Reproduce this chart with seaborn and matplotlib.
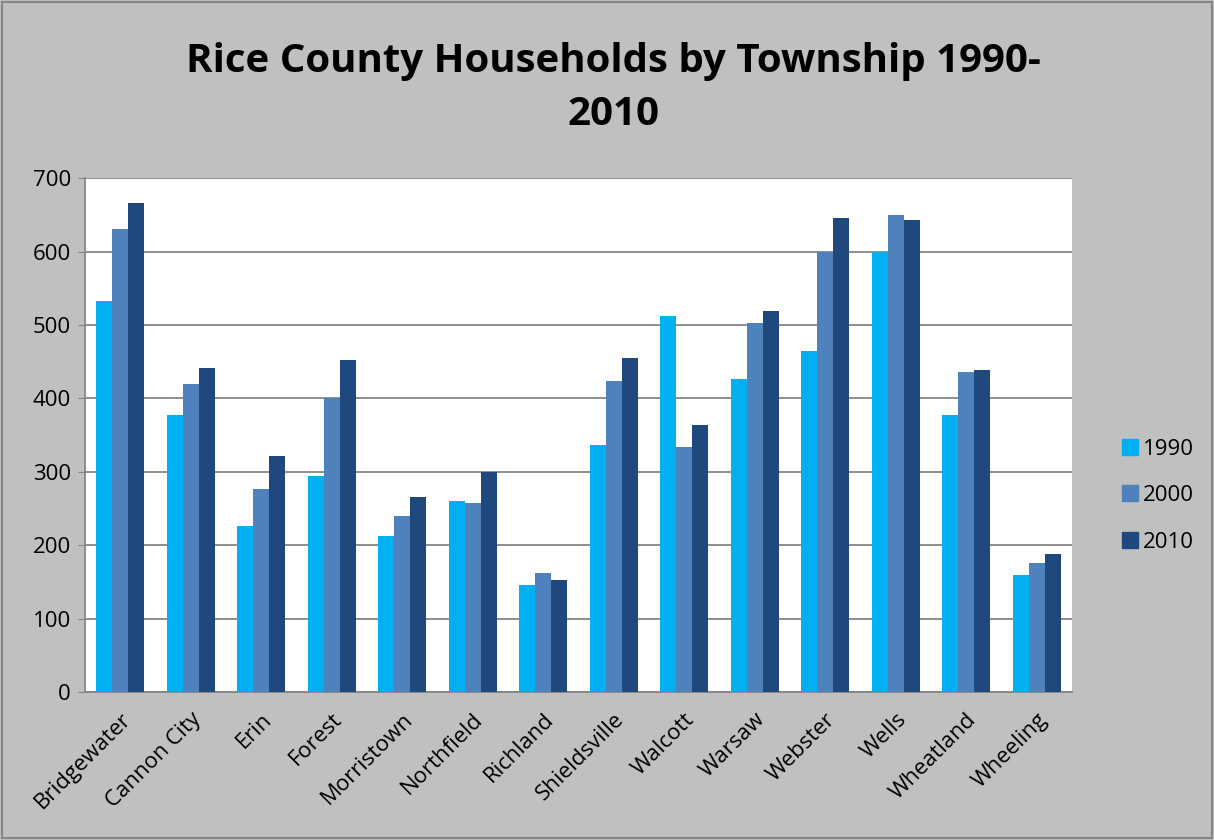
import pandas as pd
import matplotlib.pyplot as plt
import seaborn as sns
from matplotlib.lines import Line2D

townships = ["Bridgewater", "Cannon City", "Erin", "Forest", "Morristown", "Northfield",
             "Richland", "Shieldsville", "Walcott", "Warsaw", "Webster", "Wells",
             "Wheatland", "Wheeling"]
years = ["1990", "2000", "2010"]
hh_1990 = [532, 378, 226, 294, 212, 260, 146, 337, 512, 427, 464, 599, 377, 159]
hh_2000 = [630, 420, 276, 400, 240, 258, 162, 424, 334, 503, 600, 650, 436, 176]
hh_2010 = [666, 442, 322, 452, 266, 300, 153, 455, 364, 519, 646, 643, 439, 188]
colors = ["#00B0F0", "#4F81BD", "#1F497D"]

#long table for seaborn
rows = []
for yr, vals in zip(years, [hh_1990, hh_2000, hh_2010]):
    for t, v in zip(townships, vals):
        rows.append({"Township": t, "Year": yr, "Households": v})
df = pd.DataFrame(rows)

sns.set_style("white")
plt.rcParams['font.family'] = ['Open Sans', 'DejaVu Sans']
plt.rcParams['text.color'] = 'black'

fig = plt.figure(figsize=(12.14, 8.4), dpi=100, facecolor="#C0C0C0")
ax = fig.add_axes([0.070, 0.176, 0.813, 0.612])
ax.set_facecolor("white")

sns.barplot(data=df, x="Township", y="Households", hue="Year", palette=colors,
            width=0.68, saturation=1, legend=False, ax=ax, zorder=3, linewidth=0)

ax.set_ylim(0, 700)
ax.set_yticks(range(0, 701, 100))
ax.set_xlim(-0.5, len(townships) - 0.5)
ax.yaxis.grid(True, color="#868686", linewidth=1.3, zorder=0)
ax.set_axisbelow(True)
ax.set_xlabel("")
ax.set_ylabel("")
for s in ["top", "right"]:
    ax.spines[s].set_visible(False)
for s in ["left", "bottom"]:
    ax.spines[s].set_color("#868686")
    ax.spines[s].set_linewidth(1.3)
ax.tick_params(axis="y", labelsize=16, length=5, color="#868686", left=True, labelcolor="black", pad=5)
ax.tick_params(axis="x", labelsize=16, length=0, pad=12, labelcolor="black")
plt.setp(ax.get_xticklabels(), rotation=45, ha="right", rotation_mode="anchor")

fig.text(0.505, 0.895, "Rice County Households by Township 1990-\n2010", ha="center",
         va="center", fontsize=29, fontweight="bold", linespacing=1.45)

handles = [Line2D([0], [0], marker="s", linestyle="", markersize=12, color=c) for c in colors]
fig.legend(handles, years, loc="center left", bbox_to_anchor=(0.905, 0.41), frameon=False,
           fontsize=16, handletextpad=0.1, labelspacing=1.15, handlelength=1.0)

fig.patches.append(plt.Rectangle((0.002, 0.002), 0.996, 0.996, transform=fig.transFigure,
                                 fill=False, edgecolor="#868686", linewidth=1.5))

fig.savefig("out.png", dpi=100, facecolor=fig.get_facecolor())
